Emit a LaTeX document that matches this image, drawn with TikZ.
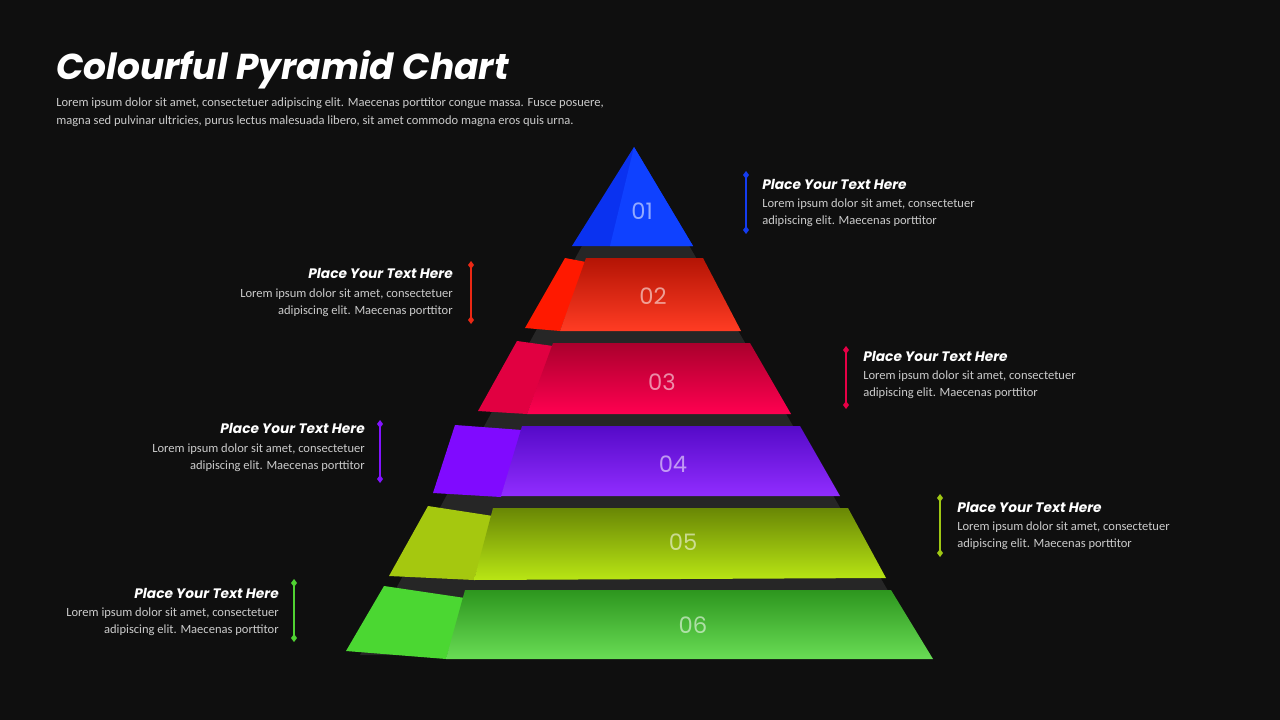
\documentclass[tikz,border=0pt]{standalone}
\usepackage{fontspec}
\setmainfont{Carlito}
\newfontfamily\popp{Poppins}
\definecolor{bgc}{RGB}{15,15,15}
\definecolor{shd}{RGB}{38,38,38}
\definecolor{b1a}{RGB}{10,50,240}\definecolor{b1b}{RGB}{15,65,255}
\definecolor{r2l}{RGB}{255,25,0}\definecolor{r2t}{RGB}{180,20,5}\definecolor{r2b}{RGB}{255,60,35}
\definecolor{c3l}{RGB}{225,0,65}\definecolor{c3t}{RGB}{170,0,45}\definecolor{c3b}{RGB}{255,0,80}
\definecolor{p4l}{RGB}{128,10,255}\definecolor{p4t}{RGB}{85,10,200}\definecolor{p4b}{RGB}{145,45,255}
\definecolor{y5l}{RGB}{165,200,15}\definecolor{y5t}{RGB}{105,135,5}\definecolor{y5b}{RGB}{185,230,20}
\definecolor{g6l}{RGB}{75,215,50}\definecolor{g6t}{RGB}{45,150,30}\definecolor{g6b}{RGB}{105,220,85}
\definecolor{ma}{RGB}{20,60,240}\definecolor{mb}{RGB}{235,40,20}\definecolor{mc}{RGB}{230,0,70}
\definecolor{md}{RGB}{130,20,255}\definecolor{me}{RGB}{160,200,20}\definecolor{mf}{RGB}{80,210,50}
\begin{document}
\begin{tikzpicture}[x=0.75pt,y=-0.75pt,
  ttl/.style={anchor=west,text=white,font=\popp\bfseries\itshape\fontsize{27}{30}\selectfont,inner sep=0},
  bodytxt/.style={text=white!80!black,font=\fontsize{9.4}{12.8}\selectfont,inner sep=0,align=left},
  head/.style={text=white,font=\popp\bfseries\itshape\fontsize{10.3}{12}\selectfont,inner sep=0},
  num/.style={text=white,text opacity=0.55,font=\popp\fontsize{17}{18}\selectfont,inner sep=0},
  markline/.style={line width=0.9pt}]
\fill[bgc] (0,0) rectangle (1280,720);
\useasboundingbox (0,0) rectangle (1280,720);
\node[ttl] (title) at (56,70) {Colourful Pyramid Chart};
\node[bodytxt,anchor=north west] (sub) at (56,98) {Lorem ipsum dolor sit amet, consectetuer adipiscing elit. Maecenas porttitor congue massa. Fusce posuere,\\magna sed pulvinar ultricies, purus lectus malesuada libero, sit amet commodo magna eros quis urna.};
\fill[shd] (634,150) -- (360,655) -- (925,655) -- cycle;
\fill[b1a] (634,147) -- (572,246) -- (693,246) -- cycle;
\fill[b1b] (634,147) -- (610,246) -- (693,246) -- cycle;
\fill[r2l] (565,258) -- (586,262) -- (560,331) -- (525,328) -- cycle;
\shade[top color=r2t,bottom color=r2b] (586,258) -- (703,258) -- (741,331) -- (560,331) -- cycle;
\fill[c3l] (517,341) -- (553,346) -- (527,414) -- (478,411) -- cycle;
\shade[top color=c3t,bottom color=c3b] (553,343) -- (750,343) -- (791,414) -- (527,414) -- cycle;
\fill[p4l] (455,425) -- (522,430) -- (501,497) -- (433,493) -- cycle;
\shade[top color=p4t,bottom color=p4b] (522,426) -- (800,426) -- (840,496) -- (501,496) -- cycle;
\fill[y5l] (428,506) -- (493,516) -- (474,580) -- (389,576) -- cycle;
\shade[top color=y5t,bottom color=y5b] (493,508) -- (848,508) -- (886,578) -- (474,580) -- cycle;
\fill[g6l] (384,586) -- (465,598) -- (446,659) -- (346,651) -- cycle;
\shade[top color=g6t,bottom color=g6b] (465,590) -- (891,590) -- (933,659) -- (446,659) -- cycle;
\node[num] (n1) at (642,211) {01};
\node[num] (n2) at (653,296) {02};
\node[num] (n3) at (662,382) {03};
\node[num] (n4) at (673,464) {04};
\node[num] (n5) at (683,542) {05};
\node[num] (n6) at (693,625) {06};
\foreach \x/\ya/\yb/\c/\side/\tx/\hy/\nm in {
  746/175/230/ma/west/762/184/a,
  471/265/320/mb/east/453/273/b,
  846/350/405/mc/west/863/356/c,
  380/424/479/md/east/365/428/d,
  940/498/553/me/west/957/507/e,
  294/583/638/mf/east/279/593/f}{
  \draw[markline,color=\c] (\x,\ya) -- (\x,\yb);
  \fill[color=\c] (\x,\ya-4) -- (\x+3,\ya) -- (\x,\ya+4) -- (\x-3,\ya) -- cycle;
  \fill[color=\c] (\x,\yb-4) -- (\x+3,\yb) -- (\x,\yb+4) -- (\x-3,\yb) -- cycle;
  \node[head,anchor=\side] (h\nm) at (\tx,\hy) {Place Your Text Here};
}
\node[bodytxt,anchor=west] (ta) at (762,213) {Lorem ipsum dolor sit amet, consectetuer\\adipiscing elit. Maecenas porttitor};
\node[bodytxt,anchor=east,align=right] (tb) at (453,303) {Lorem ipsum dolor sit amet, consectetuer\\adipiscing elit. Maecenas porttitor};
\node[bodytxt,anchor=west] (tc) at (863,385) {Lorem ipsum dolor sit amet, consectetuer\\adipiscing elit. Maecenas porttitor};
\node[bodytxt,anchor=east,align=right] (td) at (365,458) {Lorem ipsum dolor sit amet, consectetuer\\adipiscing elit. Maecenas porttitor};
\node[bodytxt,anchor=west] (te) at (957,536) {Lorem ipsum dolor sit amet, consectetuer\\adipiscing elit. Maecenas porttitor};
\node[bodytxt,anchor=east,align=right] (tf) at (279,622) {Lorem ipsum dolor sit amet, consectetuer\\adipiscing elit. Maecenas porttitor};
\end{tikzpicture}
\end{document}
